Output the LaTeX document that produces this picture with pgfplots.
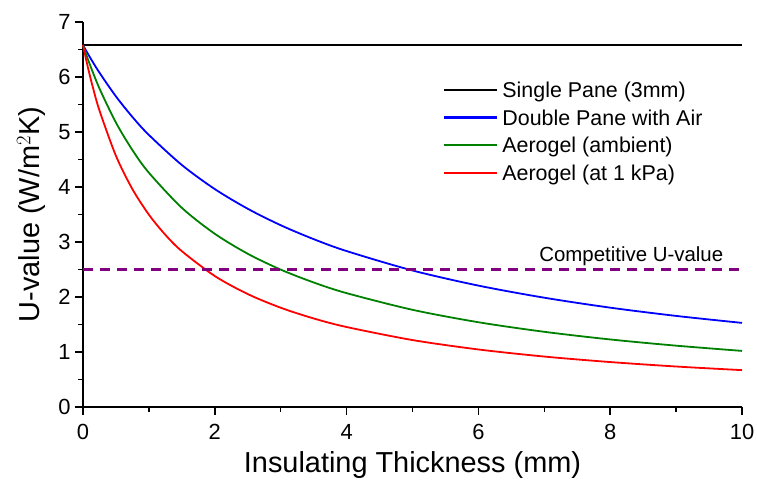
\documentclass[border=0pt]{standalone}
\usepackage{pgfplots}
\pgfplotsset{compat=1.18}
\usepackage{fontspec}
\setmainfont{Liberation Sans}
\definecolor{cBlue}{RGB}{0,0,255}
\definecolor{cGreen}{RGB}{0,128,0}
\definecolor{cRed}{RGB}{255,0,0}
\definecolor{cPurple}{RGB}{128,0,128}

\begin{document}
\begin{tikzpicture}
\begin{axis}[
    name=ax,
    width=659bp, height=385bp,
    scale only axis,
    xmin=0, xmax=10,
    ymin=0, ymax=7,
    axis x line*=bottom,
    axis y line*=left,
    axis line style={-, line width=1.5bp},
    xtick={0,2,...,10},
    ytick={0,1,...,7},
    minor x tick num=1,
    minor y tick num=1,
    tick align=outside,
    major tick length=8bp,
    minor tick length=5bp,
    tick style={line width=1.5bp, black},
    /pgf/number format/assume math mode=true,
    tick label style={font=\fontsize{22}{26}\selectfont},
    xticklabel style={yshift=-6bp},
    yticklabel style={xshift=-1bp},
    xlabel={Insulating Thickness (mm)},
    ylabel={U-value (W/m$^2$K)},
    label style={font=\fontsize{29}{34}\selectfont},
    xlabel style={yshift=-5bp},
    ylabel style={yshift=6bp},
    legend cell align=left,
    legend style={
      at={(rel axis cs:0.546,0.845)}, anchor=north west,
      draw=none, fill=none, inner sep=0pt,
      font=\fontsize{21.5}{25}\selectfont,
      row sep=0pt,
      nodes={inner sep=0pt, inner xsep=4bp, text height=15.7bp, text depth=12bp},
    },
    legend image code/.code={\draw[#1, line width=2.4bp] (0bp,6bp) -- (53bp,6bp);},
    clip=false,
]

\addplot[black, line width=2.2bp] coordinates {(0,6.58) (10,6.58)};
\addlegendentry{Single Pane (3mm)}

\addplot[cBlue, line width=1.8bp, smooth] coordinates {
    (0,6.58) (0.05,6.473) (0.1,6.369) (0.25,6.078) (0.5,5.647) (0.75,5.273)
    (1,4.946) (1.5,4.400) (2,3.962) (2.5,3.604) (3,3.305) (3.5,3.052)
    (4,2.835) (5,2.482) (6,2.207) (7,1.987) (8,1.806) (9,1.656) (10,1.529)
};
\addlegendentry{Double Pane with Air}

\addplot[cGreen, line width=1.8bp, smooth] coordinates {
    (0,6.58) (0.05,6.405) (0.1,6.240) (0.25,5.791) (0.5,5.171) (0.75,4.671)
    (1,4.259) (1.5,3.621) (2,3.149) (2.5,2.786) (3,2.498) (3.5,2.264)
    (4,2.070) (5,1.767) (6,1.541) (7,1.367) (8,1.228) (9,1.115) (10,1.020)
};
\addlegendentry{Aerogel (ambient)}

\addplot[cRed, line width=1.8bp, smooth] coordinates {
    (0,6.58) (0.05,6.302) (0.1,6.047) (0.15,5.811) (0.25,5.391) (0.5,4.567)
    (0.75,3.961) (1,3.497) (1.25,3.130) (1.5,2.833) (2,2.381) (2.5,2.053)
    (3,1.805) (3.5,1.610) (4,1.454) (5,1.217) (6,1.046) (7,0.917)
    (8,0.817) (9,0.736) (10,0.670)
};
\addlegendentry{Aerogel (at 1 kPa)}

\addplot[cPurple, line width=2.6bp, dash pattern=on 10bp off 7bp, forget plot] coordinates {(0,2.5) (10,2.5)};

\node[anchor=base, font=\fontsize{20.5}{24}\selectfont] at (axis cs:8.32,2.64) {Competitive U-value};
\end{axis}
\pgfresetboundingbox
\path[use as bounding box] ([xshift=-83bp,yshift=-73bp]ax.south west) rectangle ([xshift=15bp,yshift=22bp]ax.north east);
\end{tikzpicture}
\end{document}
